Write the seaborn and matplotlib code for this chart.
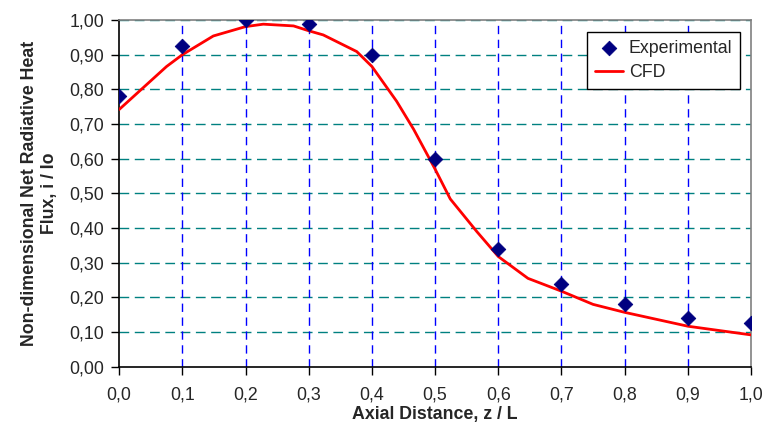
import matplotlib
matplotlib.use("Agg")
import matplotlib.pyplot as plt
import seaborn as sns
import pandas as pd
from matplotlib.ticker import FuncFormatter, MultipleLocator

exp_x = [0.0, 0.1, 0.2, 0.3, 0.4, 0.5, 0.6, 0.7, 0.8, 0.9, 1.0]
exp_y = [0.78, 0.925, 1.00, 0.988, 0.90, 0.60, 0.341, 0.238, 0.181, 0.141, 0.127]

cfd_x = [0.0, 0.075, 0.1, 0.149, 0.2, 0.228, 0.276, 0.3, 0.323, 0.376, 0.4,
         0.439, 0.466, 0.5, 0.524, 0.566, 0.6, 0.647, 0.7, 0.75, 0.8, 0.9, 1.0]
cfd_y = [0.742, 0.866, 0.90, 0.954, 0.981, 0.988, 0.983, 0.969, 0.957, 0.909, 0.866,
         0.766, 0.685, 0.570, 0.484, 0.39, 0.318, 0.255, 0.218, 0.18, 0.157, 0.117, 0.092]

sns.set_theme(style="white")
plt.rcParams['font.family'] = ['Liberation Sans', 'DejaVu Sans']

FS = 12.8

fig = plt.figure(figsize=(7.64, 4.26), dpi=100)
ax = fig.add_axes([0.156, 0.139, 0.827, 0.814])

df_exp = pd.DataFrame({"x": exp_x, "y": exp_y})
df_cfd = pd.DataFrame({"x": cfd_x, "y": cfd_y})

sns.lineplot(data=df_cfd, x="x", y="y", ax=ax, color="#ff0000", linewidth=2,
             label="CFD", zorder=3)
sns.scatterplot(data=df_exp, x="x", y="y", ax=ax, marker="D", s=55,
                color="#000080", edgecolor="#000080", label="Experimental", zorder=4)

ax.set_xlim(0, 1.0)
ax.set_ylim(0, 1.0)
ax.xaxis.set_major_locator(MultipleLocator(0.1))
ax.yaxis.set_major_locator(MultipleLocator(0.1))
ax.xaxis.set_major_formatter(FuncFormatter(lambda v, p: f"{v:.1f}".replace(".", ",")))
ax.yaxis.set_major_formatter(FuncFormatter(lambda v, p: f"{v:.2f}".replace(".", ",")))

for v in [i / 10 for i in range(1, 11)]:
    ax.axhline(v, color="#008080", linestyle=(0, (7, 4)), linewidth=1, zorder=1)
for v in [i / 10 for i in range(1, 10)]:
    ax.axvline(v, color="#0000ff", linestyle=(0, (6, 4)), linewidth=1, zorder=1)

for s in ["left", "bottom"]:
    ax.spines[s].set_color("black")
    ax.spines[s].set_linewidth(1.2)
for s in ["top", "right"]:
    ax.spines[s].set_color("#808080")
    ax.spines[s].set_linewidth(1.2)

ax.tick_params(axis="both", which="major", direction="out", length=6, width=1,
               color="black", labelsize=FS, left=True, bottom=True)
ax.tick_params(axis="y", pad=5)
ax.tick_params(axis="x", pad=8)

ax.set_xlabel("Axial Distance, z / L", fontsize=FS, fontweight="bold", labelpad=2)
ax.set_ylabel("Non-dimensional Net Radiative Heat\nFlux, i / Io", fontsize=FS,
              fontweight="bold", labelpad=8)

handles, labels = ax.get_legend_handles_labels()
order = [labels.index("Experimental"), labels.index("CFD")]
leg = ax.legend([handles[i] for i in order], [labels[i] for i in order],
                loc="upper right", bbox_to_anchor=(0.983, 0.965), fontsize=FS,
                frameon=True, fancybox=False, edgecolor="black", framealpha=1,
                handlelength=1.6, handletextpad=0.3, borderpad=0.45, labelspacing=0.4,
                borderaxespad=0)
leg.get_frame().set_linewidth(1)

fig.savefig("out.png", dpi=100)
